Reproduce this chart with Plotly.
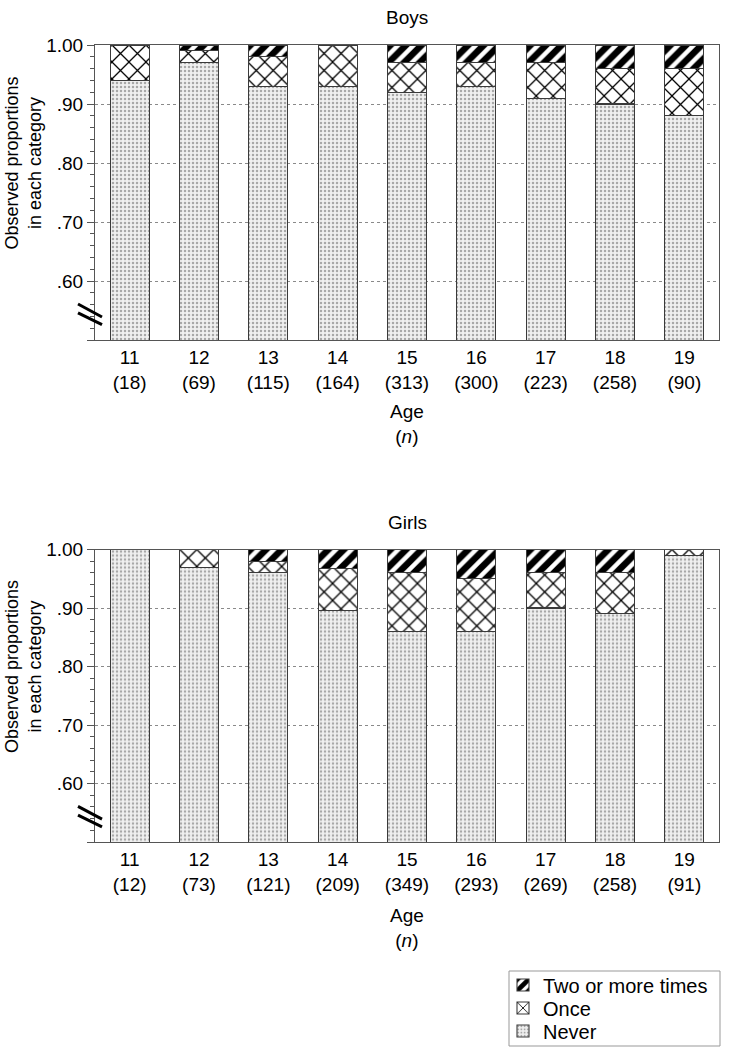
import plotly.graph_objects as go

ages = [11, 12, 13, 14, 15, 16, 17, 18, 19]
boys_n = [18, 69, 115, 164, 313, 300, 223, 258, 90]
girls_n = [12, 73, 121, 209, 349, 293, 269, 258, 91]

boys_never = [0.94, 0.97, 0.93, 0.93, 0.92, 0.93, 0.91, 0.90, 0.88]
boys_once = [0.06, 0.02, 0.05, 0.07, 0.05, 0.04, 0.06, 0.06, 0.08]
boys_two = [0.00, 0.01, 0.02, 0.00, 0.03, 0.03, 0.03, 0.04, 0.04]

girls_never = [1.00, 0.97, 0.96, 0.895, 0.86, 0.86, 0.90, 0.89, 0.99]
girls_once = [0.00, 0.03, 0.02, 0.073, 0.10, 0.09, 0.06, 0.07, 0.01]
girls_two = [0.00, 0.00, 0.02, 0.032, 0.04, 0.05, 0.04, 0.04, 0.00]

series_names = ["Never", "Once", "Two or more times"]
y_tickvals = [0.5, 0.6, 0.7, 0.8, 0.9, 1.0]
y_ticktext = ["", ".60", ".70", ".80", ".90", "1.00"]

FONT = "Arial, Liberation Sans, sans-serif"
W, H = 741, 1050
LINE = "#555555"
OUTLINE = "#3a3a3a"

patterns = {
    "Never": dict(shape=".", fgcolor="#a8a8a8", bgcolor="#f0f0f0", size=4, solidity=0.3),
    "Once": dict(shape="x", fgcolor="#000000", bgcolor="white", size=12, solidity=0.2),
    "Two or more times": dict(shape="/", fgcolor="#000000", bgcolor="white", size=11, solidity=0.6),
}
# each legend entry gets its own legend box so the row spacing matches the reference
legend_ids = {"Two or more times": "legend", "Once": "legend2", "Never": "legend3"}
legend_rows = {"legend": 985, "legend2": 1008, "legend3": 1031}

x_pos = list(range(len(ages)))

fig = go.Figure()

panels = [
    ("x", "y", boys_n, [boys_never, boys_once, boys_two], False),
    ("x2", "y2", girls_n, [girls_never, girls_once, girls_two], True),
]
for xa, ya, ns, vals, show in panels:
    for name, v in zip(series_names, vals):
        fig.add_trace(go.Bar(
            x=x_pos, y=v, name=name, xaxis=xa, yaxis=ya,
            width=0.56, showlegend=show, legend=legend_ids[name],
            marker=dict(color=patterns[name]["bgcolor"], pattern=patterns[name],
                        line=dict(color=OUTLINE, width=1.1)),
            hoverinfo="skip",
        ))


def px_x(p):
    return p / W


def px_y(p):
    return 1 - p / H


xdom = [px_x(95), px_x(719)]
top_dom = [px_y(340), px_y(45)]
bot_dom = [px_y(842), px_y(549.5)]


def xaxis_def(ns, anchor):
    return dict(
        domain=xdom, anchor=anchor, range=[-0.5, len(ages) - 0.5],
        tickmode="array", tickvals=x_pos,
        ticktext=[f"{a}<br>({n})" for a, n in zip(ages, ns)],
        showline=True, mirror=True, linecolor=LINE, linewidth=1,
        ticks="", showgrid=False, zeroline=False, automargin=False,
        tickfont=dict(family=FONT, size=19, color="black"),
    )


def yaxis_def(dom, anchor):
    return dict(
        domain=dom, anchor=anchor, range=[0.5, 1.0],
        tickmode="array", tickvals=y_tickvals, ticktext=y_ticktext,
        ticks="outside", ticklen=7, tickcolor=LINE, tickwidth=1,
        minor=dict(dtick=0.02, tick0=0.5, ticks="outside", ticklen=4,
                   tickcolor=LINE, showgrid=False),
        showline=True, mirror=True, linecolor=LINE, linewidth=1,
        showgrid=True, gridcolor="#8a8a8a", griddash="dot", gridwidth=1,
        zeroline=False, automargin=False,
        tickfont=dict(family=FONT, size=19, color="black"),
    )


def legend_def(row_y):
    return dict(
        x=px_x(503), y=px_y(row_y), xanchor="left", yanchor="middle",
        borderwidth=0, bgcolor="rgba(0,0,0,0)", itemwidth=30,
        font=dict(family=FONT, size=20, color="black"),
    )


fig.update_layout(
    template="none",
    width=W, height=H,
    margin=dict(l=0, r=0, t=0, b=0, autoexpand=False),
    paper_bgcolor="white", plot_bgcolor="white",
    barmode="stack", bargap=0.44,
    font=dict(family=FONT, color="black"),
    xaxis=xaxis_def(boys_n, "y"),
    yaxis=yaxis_def(top_dom, "x"),
    xaxis2=xaxis_def(girls_n, "y2"),
    yaxis2=yaxis_def(bot_dom, "x2"),
    legend=legend_def(legend_rows["legend"]),
    legend2=legend_def(legend_rows["legend2"]),
    legend3=legend_def(legend_rows["legend3"]),
)

annotations = []
for title, ttl_y, age_y, ycenter in [("Boys", 18, 424, 163), ("Girls", 522, 928, 666.5)]:
    annotations.append(dict(text=title, x=px_x(407), y=px_y(ttl_y), xref="paper", yref="paper",
                            showarrow=False, xanchor="center", yanchor="middle",
                            font=dict(family=FONT, size=19, color="black")))
    annotations.append(dict(text="Age<br>(<i>n</i>)", x=px_x(407), y=px_y(age_y), xref="paper",
                            yref="paper", showarrow=False, xanchor="center", yanchor="middle",
                            font=dict(family=FONT, size=19, color="black")))
    annotations.append(dict(text="Observed proportions<br>in each category", x=px_x(23.5),
                            y=px_y(ycenter), xref="paper", yref="paper", showarrow=False,
                            textangle=-90, xanchor="center", yanchor="middle",
                            font=dict(family=FONT, size=18, color="black")))
fig.update_layout(annotations=annotations)

shapes = []
# axis-break marks
for ya in ["y", "y2"]:
    for (y0, y1) in [(0.561, 0.539), (0.546, 0.526)]:
        shapes.append(dict(type="line", xref="paper", yref=ya,
                           x0=px_x(78), x1=px_x(102), y0=y0, y1=y1,
                           line=dict(color="black", width=3)))
# legend frame
shapes.append(dict(type="rect", xref="paper", yref="paper",
                   x0=px_x(509), x1=px_x(720), y0=px_y(1046), y1=px_y(971),
                   line=dict(color="#999999", width=1), fillcolor="rgba(0,0,0,0)"))
fig.update_layout(shapes=shapes)

fig.write_html("out.html", config={"displayModeBar": False},
               post_script="document.body.style.margin='0';")
